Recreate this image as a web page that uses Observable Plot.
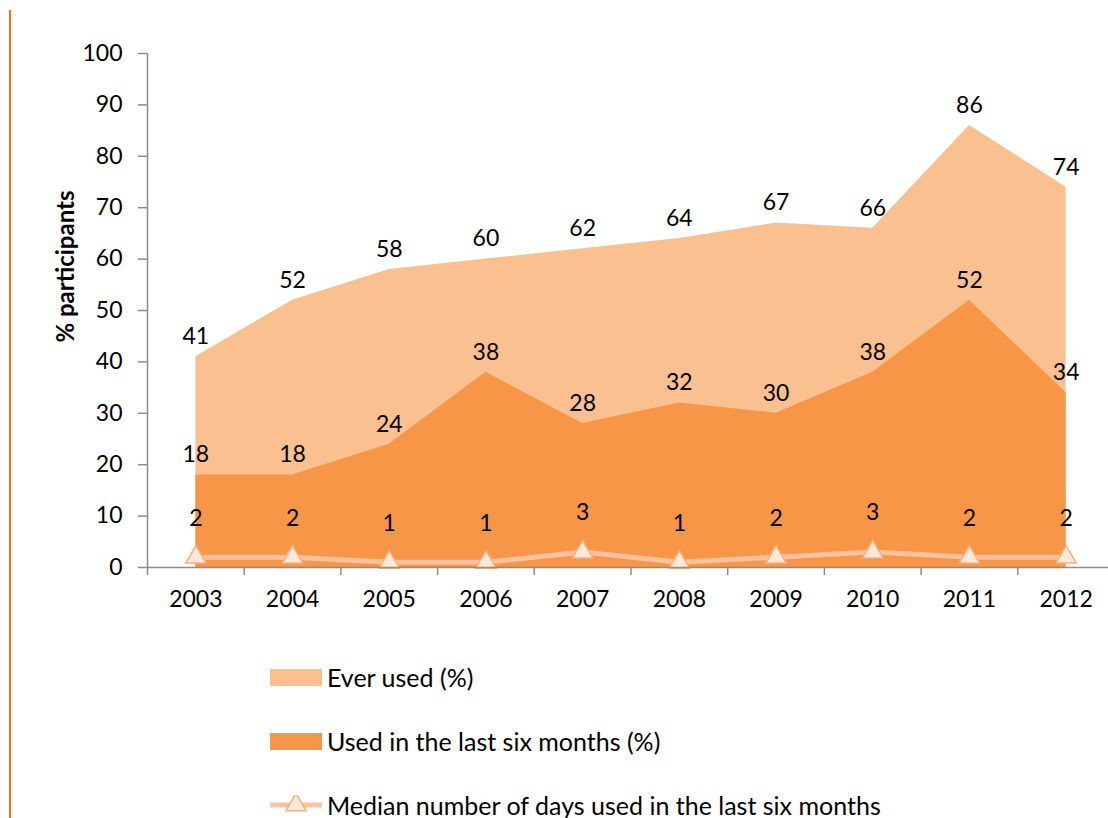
<!DOCTYPE html>
<html>
<head>
<meta charset="utf-8">
<script src="https://cdn.jsdelivr.net/npm/d3@7"></script>
<script src="https://cdn.jsdelivr.net/npm/@observablehq/plot@0.6"></script>
<style>
  html, body { margin: 0; padding: 0; background: #fff; }
  body { width: 1108px; height: 818px; overflow: hidden; position: relative; font-family: Lato, "Open Sans", sans-serif; }
  #border { position: absolute; left: 9px; top: 10px; bottom: 0; width: 2px; background: #E8731E; }
  #chart { position: absolute; left: 0; top: 0; }
  #legend { position: absolute; left: 0; top: 630px; width: 1108px; height: 188px; }
  .item { position: absolute; left: 270px; display: flex; align-items: center; font-size: 25px; color: #000; }
  .sw { width: 52px; height: 17px; margin-right: 5px; }
  .lineSw { width: 52px; height: 20px; margin-right: 5px; }
</style>
</head>
<body>
<div id="border"></div>
<div id="chart"></div>
<div id="legend"></div>
<script>
const years = [2003, 2004, 2005, 2006, 2007, 2008, 2009, 2010, 2011, 2012];
const everUsed = [41, 52, 58, 60, 62, 64, 67, 66, 86, 74];
const usedSixMonths = [18, 18, 24, 38, 28, 32, 30, 38, 52, 34];
const medianDays = [2, 2, 1, 1, 3, 1, 2, 3, 2, 2];
const yTicks = [0, 10, 20, 30, 40, 50, 60, 70, 80, 90, 100];
const seriesNames = ["Ever used (%)", "Used in the last six months (%)", "Median number of days used in the last six months"];
const yTitle = "% participants";
const colors = ["#FAC090", "#F79646", "#F8C4A6"];

const data = years.map((y, i) => ({year: y, ever: everUsed[i], used: usedSixMonths[i], median: medianDays[i]}));
const bounds = years.map(y => y - 0.5);

const font = "Lato, 'Open Sans', sans-serif";
const numSize = 23;
const chart = Plot.plot({
  width: 1108,
  height: 630,
  marginTop: 53,
  marginLeft: 147,
  marginRight: 0,
  marginBottom: 63,
  style: {fontFamily: font, fontSize: numSize + "px", color: "#000", background: "transparent"},
  x: {type: "linear", domain: [years[0] - 0.5, years[years.length - 1] + 0.5], range: [147, 1114]},
  y: {domain: [0, 100], range: [567, 53]},
  marks: [
    Plot.areaY(data, {x: "year", y1: 0, y2: "ever", fill: colors[0]}),
    Plot.areaY(data, {x: "year", y1: 0, y2: "used", fill: colors[1]}),
    Plot.line(data, {x: "year", y: "median", stroke: colors[2], strokeWidth: 5, strokeOpacity: 0.95}),
    Plot.dot(data, {x: "year", y: "median", symbol: "triangle", r: 7.5, fill: "#FDE9D9", stroke: "#F4B183", strokeWidth: 1.5}),
    Plot.ruleX([years[0] - 0.5], {y1: 0, y2: 100, stroke: "#8C8C8C", strokeWidth: 1.5}),
    Plot.ruleY([0], {stroke: "#8C8C8C", strokeWidth: 1.5}),
    Plot.axisY({ticks: yTicks, tickSize: 9, tickPadding: 16, stroke: "#8C8C8C", strokeWidth: 1.5, fill: "#000", fontSize: numSize, label: null}),
    Plot.text([yTitle], {text: d => d, frameAnchor: "left", textAnchor: "middle", rotate: -90, dx: -81, dy: -44, fontWeight: "bold", fontSize: 24, fill: "#000"}),
    Plot.axisX({ticks: bounds, tickSize: 8, tickFormat: () => "", stroke: "#8C8C8C", strokeWidth: 1.5, label: null}),
    Plot.axisX({ticks: years, tickSize: 0, tickPadding: 23, tickFormat: d => String(d), fill: "#000", fontSize: numSize, label: null}),
    Plot.text(data, {x: "year", y: "ever", text: "ever", dy: -20, fill: "#000", fontSize: numSize}),
    Plot.text(data, {x: "year", y: "used", text: "used", dy: -20, fill: "#000", fontSize: numSize}),
    Plot.text(data, {x: "year", y: "median", text: "median", dy: -39, fill: "#000", fontSize: numSize})
  ]
});
document.getElementById("chart").appendChild(chart);

const legend = document.getElementById("legend");
const tops = [47, 111, 175];
seriesNames.forEach((name, i) => {
  const item = document.createElement("div");
  item.className = "item";
  item.style.top = (tops[i] - 15) + "px";
  item.style.height = "30px";
  if (i < 2) {
    const sw = document.createElement("div");
    sw.className = "sw";
    sw.style.background = colors[i];
    item.appendChild(sw);
  } else {
    const ns = "http://www.w3.org/2000/svg";
    const svg = document.createElementNS(ns, "svg");
    svg.setAttribute("width", 52);
    svg.setAttribute("height", 20);
    svg.setAttribute("class", "lineSw");
    const ln = document.createElementNS(ns, "line");
    ln.setAttribute("x1", 0); ln.setAttribute("x2", 52);
    ln.setAttribute("y1", 10); ln.setAttribute("y2", 10);
    ln.setAttribute("stroke", colors[2]); ln.setAttribute("stroke-width", 5);
    svg.appendChild(ln);
    const tri = document.createElementNS(ns, "path");
    tri.setAttribute("d", d3.symbol(d3.symbolTriangle, Math.PI * 7.5 * 7.5)());
    tri.setAttribute("transform", "translate(26,10)");
    tri.setAttribute("fill", "#FDE9D9");
    tri.setAttribute("stroke", "#F4B183");
    tri.setAttribute("stroke-width", 1.5);
    svg.appendChild(tri);
    item.appendChild(svg);
  }
  const t = document.createElement("span");
  t.textContent = name;
  item.appendChild(t);
  legend.appendChild(item);
});
</script>
</body>
</html>
